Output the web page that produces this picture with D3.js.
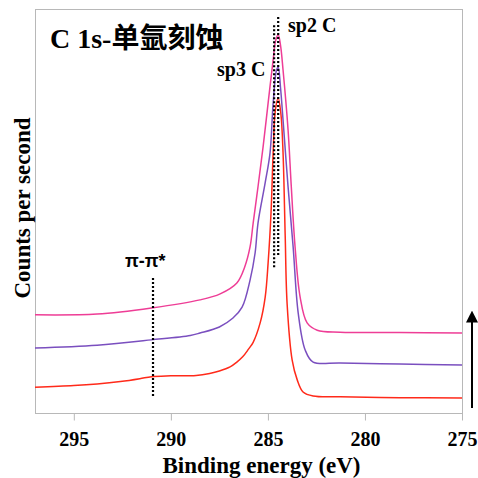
<!DOCTYPE html>
<html>
<head>
<meta charset="utf-8">
<script src="https://cdn.jsdelivr.net/npm/d3@7"></script>
<style>
    body { margin: 0; background: #fff; }
    .frame { fill: none; stroke: #b8b8b8; stroke-width: 1; }
    .axis line { stroke: #b8b8b8; }
    .lbl { font-family: "Liberation Serif", "Times New Roman", serif; font-weight: bold; fill: #000; }
</style>
</head>
<body>
<svg width="478" height="478"></svg>
<script>
    // binding energy (eV), counts (arbitrary units)
    var redData = [
        [297.0, 64], [295.0, 68], [293.8, 72], [292.6, 78], [291.6, 85], [291.0, 90],
        [290.0, 92], [288.7, 93], [288.0, 98], [287.5, 104], [286.95, 114], [286.6, 126],
        [286.3, 139], [286.0, 158], [285.76, 175], [285.4, 223], [285.14, 287], [284.99, 371],
        [284.84, 495], [284.73, 644], [284.62, 748], [284.47, 780], [284.33, 740],
        [284.22, 644], [284.11, 440], [284.01, 270], [283.75, 131], [283.49, 82],
        [283.19, 52], [282.67, 42], [281.28, 40], [278.2, 38], [275.0, 37]
    ];
    var purpleData = [
        [297.0, 161], [293.8, 168], [291.0, 181], [289.0, 192], [288.5, 198], [287.5, 213],
        [286.8, 235], [286.33, 262], [285.92, 329], [285.66, 396], [285.51, 470], [285.14, 570],
        [284.89, 644], [284.73, 767], [284.55, 850], [284.47, 856], [284.35, 805], [284.22, 725],
        [283.96, 559], [283.70, 411], [283.44, 248], [283.08, 156], [282.67, 126], [281.28, 124],
        [278.2, 121], [275.0, 119]
    ];
    var pinkData = [
        [297.0, 243], [293.8, 245], [291.0, 260], [288.5, 280], [287.46, 295], [286.6, 322],
        [286.2, 361], [285.92, 411], [285.76, 470], [285.51, 560], [285.25, 658], [284.99, 767],
        [284.73, 874], [284.6, 922], [284.47, 936], [284.35, 910], [284.22, 849], [283.96, 700],
        [283.80, 564], [283.6, 411], [283.34, 287], [282.98, 223], [282.46, 205], [281.28, 200],
        [278.2, 199], [275.0, 198]
    ];
    var seriesColors = ["#ff2a1a", "#7a4fbf", "#ee3d96"];
    var xTicks = [295, 290, 285, 280, 275];

    // dotted marker lines: energy, counts from, counts to
    var markers = [
        { be: 284.47, c0: 391, c1: 985 },
        { be: 284.68, c0: 361, c1: 960 },
        { be: 290.92, c0: 42, c1: 334 }
    ];

    var svg = d3.select("svg"),
        margin = { top: 9, right: 16, bottom: 65, left: 35 },
        width = +svg.attr("width") - margin.left - margin.right,
        height = +svg.attr("height") - margin.top - margin.bottom;

    var x = d3.scaleLinear().domain([297, 275]).range([0, width]),
        y = d3.scaleLinear().domain([0, 1000]).range([height, 0]);

    var g = svg.append("g")
        .attr("transform", "translate(" + margin.left + "," + margin.top + ")");

    g.append("rect")
        .attr("class", "frame")
        .attr("x", 0.5).attr("y", 0.5)
        .attr("width", width).attr("height", height);

    var xAxis = g.append("g")
        .attr("class", "axis")
        .attr("font-family", "'Liberation Serif', 'Times New Roman', serif")
        .attr("font-size", 20)
        .attr("transform", "translate(0," + (height + 0.5) + ")")
        .call(d3.axisBottom(x).tickValues(xTicks).tickSize(7).tickPadding(11).tickFormat(d3.format("d")));
    xAxis.attr("font-family", "'Liberation Serif', 'Times New Roman', serif")
        .attr("font-size", 20)
        .attr("font-weight", "bold");
    xAxis.select(".domain").remove();
    xAxis.selectAll("text").attr("fill", "#000");

    var line = d3.line()
        .x(function(d) { return x(d[0]); })
        .y(function(d) { return y(d[1]); })
        .curve(d3.curveCatmullRom.alpha(0.5));

    [redData, purpleData, pinkData].forEach(function(data, i) {
        g.append("path")
            .datum(data)
            .attr("fill", "none")
            .attr("stroke", seriesColors[i])
            .attr("stroke-width", 1.5)
            .attr("d", line);
    });

    g.selectAll(".marker")
        .data(markers)
        .enter().append("line")
        .attr("class", "marker")
        .attr("x1", function(d) { return x(d.be); })
        .attr("x2", function(d) { return x(d.be); })
        .attr("y1", function(d) { return y(d.c0); })
        .attr("y2", function(d) { return y(d.c1); })
        .attr("stroke", "#000")
        .attr("stroke-width", 2.2)
        .attr("stroke-dasharray", "2,2");

    // labels
    svg.append("text").attr("class", "lbl")
        .attr("x", 50).attr("y", 48)
        .style("font-size", "28px")
        .style("font-family", "'Liberation Serif', 'Noto Sans CJK SC', serif")
        .text("C 1s-单氩刻蚀");

    svg.append("text").attr("class", "lbl")
        .attr("x", 288).attr("y", 32)
        .style("font-size", "20px")
        .text("sp2 C");

    svg.append("text").attr("class", "lbl")
        .attr("x", 217).attr("y", 76)
        .style("font-size", "20px")
        .text("sp3 C");

    svg.append("text")
        .attr("x", 125).attr("y", 267)
        .style("font-family", "'Liberation Sans', Arial, sans-serif")
        .style("font-weight", "bold")
        .style("font-size", "18px")
        .text("π-π*");

    svg.append("text").attr("class", "lbl")
        .attr("x", margin.left + width / 2 + 13).attr("y", 473)
        .attr("text-anchor", "middle")
        .style("font-size", "23px")
        .text("Binding energy (eV)");

    svg.append("text").attr("class", "lbl")
        .attr("transform", "translate(30,208) rotate(-90)")
        .attr("text-anchor", "middle")
        .style("font-size", "23px")
        .text("Counts per second");

    // arrow on the right
    svg.append("defs").append("marker")
        .attr("id", "arrowhead")
        .attr("viewBox", "0 0 10 10")
        .attr("refX", 8).attr("refY", 5)
        .attr("markerWidth", 6).attr("markerHeight", 6)
        .attr("markerUnits", "strokeWidth")
        .attr("orient", "auto")
        .append("path")
        .attr("d", "M0,0 L10,5 L0,10 z")
        .attr("fill", "#000");

    svg.append("line")
        .attr("x1", 472).attr("x2", 472)
        .attr("y1", 408).attr("y2", 313)
        .attr("stroke", "#000")
        .attr("stroke-width", 2)
        .attr("marker-end", "url(#arrowhead)");
</script>
</body>
</html>
